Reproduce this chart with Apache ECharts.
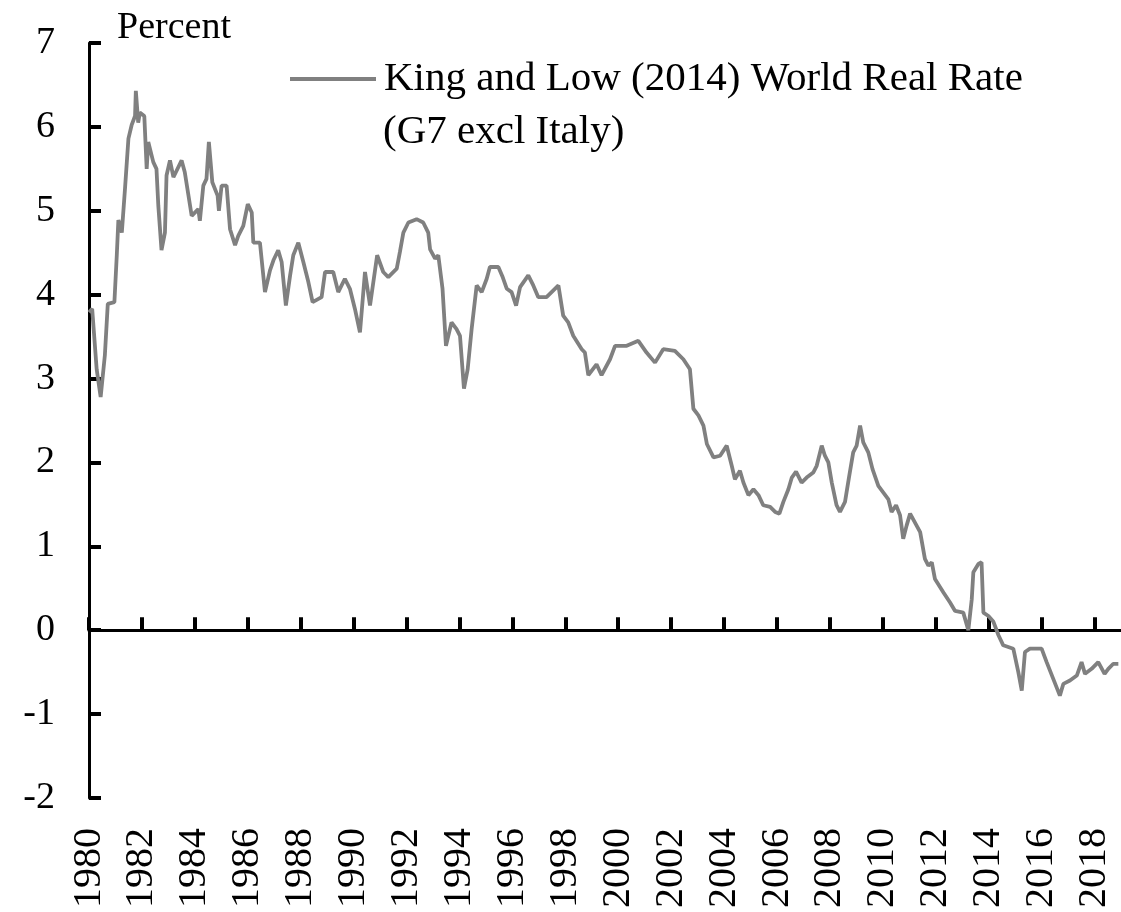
<!DOCTYPE html>
<html>
<head>
<meta charset="utf-8">
<script src="https://cdn.jsdelivr.net/npm/echarts@6/dist/echarts.min.js"></script>
<style>
  html, body { margin: 0; padding: 0; background: #fff; }
  #chart { width: 1121px; height: 912px; }
</style>
</head>
<body>
<div id="chart"></div>
<script>
// years on the x axis (decimal year) and the world real rate in percent
var dates = [
  1980.00, 1980.12, 1980.29, 1980.44, 1980.60, 1980.71, 1980.96, 1981.05, 1981.11, 1981.24,
  1981.36, 1981.49, 1981.61, 1981.74, 1981.77, 1981.86, 1981.92, 1982.09, 1982.18, 1982.24,
  1982.43, 1982.55, 1982.62, 1982.74, 1982.87, 1982.93, 1983.06, 1983.19, 1983.50, 1983.62,
  1983.88, 1984.13, 1984.19, 1984.32, 1984.44, 1984.53, 1984.66, 1984.86, 1984.91, 1985.01,
  1985.20, 1985.33, 1985.52, 1985.64, 1985.83, 1986.00, 1986.15, 1986.21, 1986.46, 1986.65,
  1986.84, 1986.97, 1987.15, 1987.28, 1987.44, 1987.60, 1987.72, 1987.91, 1988.10, 1988.29,
  1988.45, 1988.79, 1988.92, 1989.23, 1989.42, 1989.67, 1989.86, 1990.05, 1990.24, 1990.43,
  1990.62, 1990.89, 1991.12, 1991.31, 1991.63, 1991.75, 1991.88, 1992.07, 1992.38, 1992.63,
  1992.82, 1992.89, 1993.08, 1993.20, 1993.36, 1993.49, 1993.70, 1993.89, 1994.02, 1994.17,
  1994.31, 1994.46, 1994.65, 1994.84, 1995.03, 1995.15, 1995.47, 1995.62, 1995.79, 1995.97,
  1996.14, 1996.29, 1996.60, 1996.79, 1996.98, 1997.29, 1997.74, 1997.92, 1998.11, 1998.30,
  1998.62, 1998.74, 1998.87, 1999.18, 1999.37, 1999.69, 1999.88, 2000.32, 2000.76, 2001.07,
  2001.39, 2001.70, 2002.14, 2002.46, 2002.71, 2002.84, 2003.03, 2003.22, 2003.35, 2003.60,
  2003.85, 2004.10, 2004.29, 2004.41, 2004.60, 2004.73, 2004.92, 2005.11, 2005.30, 2005.48,
  2005.74, 2005.93, 2006.09, 2006.24, 2006.43, 2006.56, 2006.72, 2006.93, 2007.12, 2007.37,
  2007.50, 2007.69, 2007.81, 2007.94, 2008.07, 2008.25, 2008.38, 2008.57, 2008.73, 2008.88,
  2009.01, 2009.14, 2009.20, 2009.26, 2009.45, 2009.61, 2009.83, 2010.02, 2010.21, 2010.33,
  2010.50, 2010.65, 2010.77, 2010.90, 2011.03, 2011.41, 2011.59, 2011.72, 2011.85, 2011.97,
  2012.29, 2012.54, 2012.73, 2013.04, 2013.23, 2013.36, 2013.42, 2013.61, 2013.73, 2013.80,
  2013.99, 2014.18, 2014.37, 2014.55, 2014.93, 2015.12, 2015.25, 2015.37, 2015.56, 2016.00,
  2016.19, 2016.44, 2016.69, 2016.82, 2017.07, 2017.33, 2017.51, 2017.64, 2017.89, 2018.14,
  2018.38, 2018.52, 2018.71, 2018.90
];
var rates = [
  3.79, 3.83, 3.11, 2.78, 3.28, 3.89, 3.91, 4.47, 4.89, 4.74,
  5.26, 5.86, 6.02, 6.13, 6.43, 6.05, 6.17, 6.13, 5.50, 5.82,
  5.58, 5.50, 5.06, 4.53, 4.74, 5.42, 5.60, 5.40, 5.60, 5.46,
  4.94, 5.02, 4.88, 5.30, 5.38, 5.82, 5.34, 5.18, 5.00, 5.30,
  5.30, 4.78, 4.59, 4.70, 4.82, 5.08, 4.98, 4.62, 4.62, 4.03,
  4.29, 4.41, 4.53, 4.39, 3.87, 4.23, 4.47, 4.62, 4.39, 4.15,
  3.91, 3.97, 4.27, 4.27, 4.03, 4.19, 4.07, 3.83, 3.55, 4.27,
  3.87, 4.47, 4.27, 4.21, 4.31, 4.51, 4.74, 4.86, 4.90, 4.86,
  4.74, 4.54, 4.43, 4.47, 4.07, 3.39, 3.67, 3.59, 3.51, 2.88,
  3.11, 3.59, 4.11, 4.03, 4.19, 4.33, 4.33, 4.22, 4.07, 4.03,
  3.87, 4.09, 4.23, 4.11, 3.97, 3.97, 4.11, 3.75, 3.67, 3.51,
  3.35, 3.31, 3.04, 3.17, 3.04, 3.23, 3.39, 3.39, 3.45, 3.31,
  3.19, 3.35, 3.33, 3.23, 3.11, 2.64, 2.56, 2.44, 2.22, 2.06,
  2.08, 2.20, 1.96, 1.80, 1.90, 1.76, 1.61, 1.68, 1.61, 1.49,
  1.47, 1.41, 1.39, 1.53, 1.68, 1.82, 1.89, 1.76, 1.82, 1.88,
  1.96, 2.20, 2.08, 2.00, 1.76, 1.49, 1.41, 1.53, 1.84, 2.12,
  2.20, 2.44, 2.46, 2.24, 2.12, 1.92, 1.72, 1.64, 1.56, 1.41,
  1.49, 1.37, 1.09, 1.25, 1.39, 1.17, 0.85, 0.77, 0.81, 0.61,
  0.45, 0.33, 0.23, 0.21, 0.00, 0.37, 0.69, 0.79, 0.81, 0.21,
  0.17, 0.10, -0.06, -0.18, -0.22, -0.50, -0.72, -0.26, -0.22, -0.22,
  -0.38, -0.58, -0.78, -0.64, -0.60, -0.54, -0.38, -0.52, -0.46, -0.38,
  -0.52, -0.46, -0.40, -0.40
];
var tickYears = [1980, 1982, 1984, 1986, 1988, 1990, 1992, 1994, 1996, 1998,
  2000, 2002, 2004, 2006, 2008, 2010, 2012, 2014, 2016, 2018];
var seriesName = 'King and Low (2014) World Real Rate';
var seriesNameLine2 = '(G7 excl Italy)';

var serif = 'Liberation Serif, Times New Roman, serif';
var lineData = dates.map(function (d, i) { return [d, rates[i]]; });

var chart = echarts.init(document.getElementById('chart'));
var option = {
  backgroundColor: '#fff',
  animation: false,
  grid: {
    left: 89, right: 0, top: 43, bottom: 114,
    containLabel: false, outerBoundsMode: 'none'
  },
  legend: {
    orient: 'horizontal',
    left: 290, top: 56, padding: 0,
    itemWidth: 86, itemHeight: 4, itemGap: 0,
    icon: 'rect',
    itemStyle: { color: '#808080' },
    data: [seriesName],
    textStyle: { fontFamily: serif, fontSize: 41, color: '#000', lineHeight: 46, padding: [0, 0, 0, 3] }
  },
  graphic: [{
    type: 'text', left: 383, top: 112,
    style: { text: seriesNameLine2, font: '41px ' + serif, fill: '#000' }
  }],
  xAxis: [{
    type: 'value', min: 1980, max: 2019, interval: 2,
    position: 'bottom',
    axisLine: { show: false, onZero: false },
    axisTick: { show: false },
    splitLine: { show: false },
    axisLabel: {
      customValues: tickYears, rotate: 90, margin: 30,
      fontFamily: serif, fontSize: 40, color: '#000',
      formatter: function (v) { return String(v); }
    }
  }, {
    type: 'value', min: 1980, max: 2019, interval: 2,
    position: 'bottom',
    axisLine: { show: true, onZero: true, lineStyle: { color: '#000', width: 3 } },
    axisTick: { show: true, inside: true, length: 13, customValues: tickYears, lineStyle: { color: '#000', width: 4 } },
    axisLabel: { show: false },
    splitLine: { show: false }
  }],
  yAxis: {
    type: 'value', min: -2, max: 7, interval: 1,
    name: 'Percent', nameLocation: 'end', nameGap: -4,
    nameTextStyle: { fontFamily: serif, fontSize: 38, color: '#000', align: 'left', padding: [0, 0, 0, 28] },
    axisLine: { show: true, onZero: false, lineStyle: { color: '#000', width: 3 } },
    axisTick: { show: true, inside: true, length: 12, lineStyle: { color: '#000', width: 4 } },
    axisLabel: { margin: 34, fontFamily: serif, fontSize: 38, color: '#000' },
    splitLine: { show: false }
  },
  series: [{
    name: seriesName,
    type: 'line',
    xAxisIndex: 0,
    symbol: 'none',
    data: lineData,
    lineStyle: { color: '#808080', width: 3.8 },
    itemStyle: { color: '#808080' }
  }]
};
chart.setOption(option);
</script>
</body>
</html>
